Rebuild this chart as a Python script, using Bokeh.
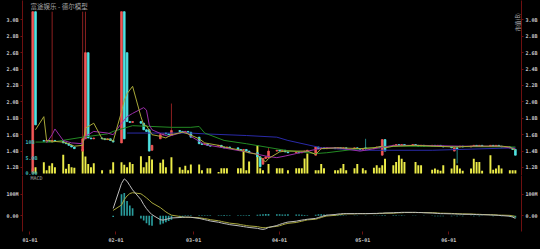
import math
import pandas as pd
from bokeh.plotting import figure
from bokeh.layouts import column
from bokeh.models import (Range1d, LinearAxis, FixedTicker, CustomJSTickFormatter,
                          DatetimeTickFormatter, Label, ColumnDataSource)
from bokeh.embed import file_html
from bokeh.resources import INLINE

# ---------------- data (values in billions; MACD in millions) ----------------
dates = pd.bdate_range("2025-01-02", "2025-06-25")

opens = [
    1.15, 3.10,
    1.53, 1.52, 1.53, 1.51, 1.53,
    1.52, 1.50, 1.49, 1.47, 1.45,
    1.40, 1.55, 2.60, 1.56, 1.55,
    1.56, 1.55, 1.54, 1.55, 1.53,
    1.50, 3.10, 2.60, 1.76, 1.75,
    1.76, 1.74, 1.66, 1.66, 1.41,
    1.55, 1.60, 1.62, 1.61, 1.59,
    1.65, 1.64, 1.63, 1.64, 1.63,
    1.57, 1.49, 1.48, 1.49, 1.47,
    1.46, 1.47, 1.45, 1.44, 1.45,
    1.44, 1.42, 1.41, 1.42, 1.40,
    1.38, 1.33, 1.24, 1.31, 1.32,
    1.40, 1.41, 1.40, 1.41, 1.39,
    1.38, 1.39, 1.38, 1.39, 1.40,
    1.35, 1.45, 1.43, 1.44, 1.43,
    1.44, 1.43, 1.44, 1.43, 1.44,
    1.43, 1.44, 1.43, 1.42, 1.44,
    1.43, 1.44, 1.45, 1.35, 1.54,
    1.46, 1.47, 1.48, 1.47, 1.48,
    1.47, 1.48, 1.47, 1.46, 1.47,
    1.46, 1.47, 1.46, 1.47, 1.46,
    1.45, 1.40, 1.44, 1.45, 1.46,
    1.45, 1.46, 1.47, 1.46, 1.47,
    1.46, 1.47, 1.46, 1.47, 1.46,
    1.45, 1.44, 1.42,
]
closes = [
    3.10, 1.72,
    1.52, 1.53, 1.52, 1.53, 1.52,
    1.50, 1.49, 1.47, 1.45, 1.43,
    1.55, 2.60, 1.56, 1.55, 1.56,
    1.55, 1.54, 1.55, 1.53, 1.51,
    3.10, 1.55, 1.76, 1.75, 1.76,
    1.74, 1.66, 1.64, 1.40, 1.47,
    1.60, 1.61, 1.61, 1.60, 1.65,
    1.64, 1.63, 1.64, 1.63, 1.57,
    1.49, 1.48, 1.49, 1.47, 1.46,
    1.47, 1.45, 1.44, 1.45, 1.44,
    1.42, 1.41, 1.42, 1.40, 1.38,
    1.33, 1.21, 1.31, 1.33, 1.40,
    1.41, 1.40, 1.41, 1.39, 1.38,
    1.39, 1.38, 1.39, 1.40, 1.41,
    1.45, 1.43, 1.44, 1.43, 1.44,
    1.43, 1.44, 1.43, 1.44, 1.43,
    1.44, 1.43, 1.42, 1.43, 1.43,
    1.44, 1.45, 1.44, 1.54, 1.40,
    1.47, 1.48, 1.47, 1.48, 1.47,
    1.48, 1.47, 1.46, 1.47, 1.46,
    1.47, 1.46, 1.47, 1.46, 1.45,
    1.44, 1.44, 1.43, 1.46, 1.45,
    1.46, 1.47, 1.46, 1.47, 1.46,
    1.47, 1.46, 1.47, 1.46, 1.45,
    1.44, 1.42, 1.35,
]
# highs / lows that reach beyond the candle body
wick_highs = {"2025-01-09": 3.10, "2025-01-20": 3.10, "2025-01-21": 3.10,
              "2025-02-21": 1.98, "2025-03-28": 1.44, "2025-05-02": 1.55}
wick_lows = {"2025-01-02": 1.12, "2025-03-25": 1.20, "2025-05-02": 1.41,
             "2025-06-04": 1.25}

volumes = [
    1.6, 2.0,
    3.6, 1.0, 2.5, 3.3, 2.0,
    6.0, 1.5, 3.0, 2.0, 1.8,
    7.8, 5.4, 3.0, 2.0, 3.3,
    1.0, 0.0, 0.0, 1.2, 3.6,
    3.6, 2.8, 2.0, 3.6, 3.0,
    5.5, 2.0, 3.6, 5.6, 4.5,
    3.4, 4.5, 2.0, 0.0, 5.2,
    2.0, 1.2, 2.5, 1.0, 2.9,
    2.9, 1.0, 0.0, 1.7, 1.7,
    0.5, 1.7, 1.7, 1.7, 0.0,
    1.7, 1.7, 7.3, 1.0, 3.8,
    9.0, 1.7, 1.0, 0.0, 3.0,
    1.7, 1.7, 1.7, 0.0, 1.0,
    1.7, 1.7, 1.7, 4.8, 6.4,
    1.0, 1.0, 3.0, 1.7, 0.0,
    1.0, 1.0, 1.7, 3.0, 1.0,
    1.7, 3.0, 0.0, 1.7, 1.0,
    1.8, 2.6, 1.8, 2.6, 4.7,
    2.6, 3.7, 5.8, 4.7, 3.7,
    0.0, 3.7, 2.6, 2.6, 0.0,
    1.2, 1.6, 1.2, 0.9, 2.6,
    1.6, 4.7, 2.6, 1.6, 0.9,
    1.6, 4.7, 3.7, 3.7, 0.9,
    5.8, 1.2, 1.6, 2.6, 1.6,
    1.0, 1.0, 1.0,
]

ma5_dates = ["2025-01-03", "2025-01-06", "2025-01-07", "2025-01-09", "2025-01-13",
             "2025-01-15", "2025-01-17", "2025-01-20", "2025-01-21", "2025-01-23",
             "2025-01-24", "2025-01-27", "2025-01-30", "2025-01-31", "2025-02-03",
             "2025-02-04", "2025-02-05", "2025-02-07", "2025-02-10", "2025-02-11",
             "2025-02-12", "2025-02-14", "2025-02-17", "2025-02-19", "2025-02-21",
             "2025-02-25", "2025-02-27", "2025-03-03", "2025-03-05", "2025-03-10",
             "2025-03-12", "2025-03-18", "2025-03-21", "2025-03-24", "2025-03-26",
             "2025-03-27", "2025-03-28", "2025-04-01", "2025-04-03", "2025-04-11",
             "2025-04-14", "2025-04-16", "2025-04-22", "2025-04-30", "2025-05-05",
             "2025-05-08", "2025-05-09", "2025-05-12", "2025-05-20", "2025-06-03",
             "2025-06-10", "2025-06-20", "2025-06-23", "2025-06-25"]
ma5_vals = [1.66, 1.82, 1.53, 1.52, 1.51, 1.49, 1.46, 1.47, 1.68, 1.72,
            1.74, 1.55, 1.54, 1.52, 1.88, 2.02, 2.10, 2.19, 1.82, 1.72,
            1.71, 1.60, 1.58, 1.56, 1.60, 1.63, 1.61, 1.55, 1.50, 1.47,
            1.45, 1.41, 1.38, 1.36, 1.29, 1.27, 1.31, 1.39, 1.40, 1.40,
            1.36, 1.43, 1.44, 1.43, 1.44, 1.46, 1.44, 1.46, 1.47, 1.45,
            1.46, 1.46, 1.45, 1.41]

ma10_dates = ["2025-01-07", "2025-01-09", "2025-01-10", "2025-01-13", "2025-01-16",
              "2025-01-20", "2025-01-21", "2025-01-24", "2025-01-29", "2025-01-31",
              "2025-02-03", "2025-02-05", "2025-02-07", "2025-02-11", "2025-02-12",
              "2025-02-13", "2025-02-14", "2025-02-18", "2025-02-20", "2025-02-24",
              "2025-02-26", "2025-02-28", "2025-03-03", "2025-03-05", "2025-03-10",
              "2025-03-20", "2025-03-27", "2025-03-31", "2025-04-03", "2025-04-07",
              "2025-04-14", "2025-04-18", "2025-04-22", "2025-04-30", "2025-05-07",
              "2025-05-12", "2025-05-22", "2025-06-05", "2025-06-19", "2025-06-25"]
ma10_vals = [1.50, 1.60, 1.67, 1.53, 1.50, 1.49, 1.58, 1.64, 1.62, 1.60,
             1.74, 1.82, 1.86, 1.93, 1.90, 1.72, 1.66, 1.60, 1.58, 1.62,
             1.64, 1.58, 1.52, 1.48, 1.45, 1.39, 1.34, 1.32, 1.34, 1.37,
             1.42, 1.44, 1.44, 1.40, 1.44, 1.47, 1.47, 1.46, 1.46, 1.43]

ma20_dates = ["2025-01-03", "2025-01-09", "2025-01-20", "2025-01-29", "2025-01-31",
              "2025-02-04", "2025-02-07", "2025-02-14", "2025-02-21", "2025-02-28",
              "2025-03-03", "2025-03-05", "2025-03-12", "2025-03-20", "2025-04-03",
              "2025-04-14", "2025-04-18", "2025-04-30", "2025-05-09", "2025-05-14",
              "2025-06-25"]
ma20_vals = [1.51, 1.51, 1.57, 1.61, 1.64, 1.68, 1.71, 1.70, 1.69, 1.69,
             1.70, 1.62, 1.53, 1.49, 1.41, 1.37, 1.38, 1.43, 1.45, 1.46, 1.45]

ma60_dates = ["2025-02-05", "2025-02-28", "2025-03-05", "2025-03-20", "2025-03-31",
              "2025-04-04", "2025-04-16", "2025-04-30", "2025-05-26", "2025-06-25"]
ma60_vals = [1.62, 1.62, 1.61, 1.59, 1.57, 1.53, 1.44, 1.41, 1.41, 1.44]

# MACD (millions), from 2025-01-31 onward
macd_dif = [34, 150, 171, 160, 140, 120, 75, 52, 33, 18,
            5, -18, -20, -17, -13, -10, -8, -7, -6, -6,
            -7, -12, -15, -18, -21, -24, -30, -33, -36, -38,
            -41, -46, -48, -50, -52, -54, -58, -61, -63, -60,
            -54, -45, -40, -36, -32, -29, -25, -22, -20, -18,
            -16, -12, -8, -4, 0, 3, 6, 8, 9, 10,
            10, 10, 10, 10, 10, 10, 11, 11, 12, 12,
            13, 14, 15, 15, 16, 16, 16, 16, 15, 15,
            14, 13, 12, 11, 10, 10, 9, 9, 8, 8,
            7, 7, 6, 6, 5, 5, 4, 3, 3, 2,
            1, -2, -6, -12]
macd_dea = [25, 50, 75, 92, 103, 107, 102, 93, 83, 72,
            60, 38, 28, 18, 10, 3, -3, -6, -7, -7,
            -7, -9, -11, -13, -15, -18, -23, -26, -29, -31,
            -34, -38, -41, -43, -45, -47, -50, -53, -55, -55,
            -53, -49, -46, -42, -38, -35, -31, -28, -25, -22,
            -19, -16, -12, -8, -4, -1, 2, 4, 6, 8,
            9, 9, 10, 10, 10, 10, 10, 10, 11, 11,
            12, 12, 13, 14, 14, 15, 15, 15, 15, 15,
            15, 14, 14, 13, 12, 12, 11, 10, 10, 9,
            9, 8, 8, 7, 7, 6, 5, 5, 4, 3,
            3, 2, 0, -3]
macd_hist = [-6, 100, 105, 68, 48, 35, -12, -22, -35, -44,
             -46, -40, -36, -30, -24, -18, -10, -5, 2, 3,
             3, 3, 2, 3, 3, 2, 3, 3, 4, 3,
             3, 3, 2, 3, 3, 4, 5, 6, 7, 8,
             8, 7, 7, 6, 6, 7, 6, 6, 5, 4,
             3, 5, 7, 7, 6, 5, 4, 3, 2, 2,
             1, 1, 1, 0, 0, -1, 1, 1, 1, 2,
             2, 2, 2, 1, 2, 1, 1, 1, 0, 0,
             -1, -1, -2, -2, -2, -2, -2, -1, -2, -1,
             -2, -1, -2, -1, -2, -1, -1, -2, -1, -1,
             -2, -4, -6, -9]

price_ticks = [1.2, 1.4, 1.6, 1.8, 2.0, 2.2, 2.4, 2.6, 2.8, 3.0]
macd_ticks = [0, 100]
macd_labels = {0: "0.00", 100: "100M"}
vol_ticks = [0, 5, 10]
vol_labels = ["0.00", "5.0B", "10B"]
month_ticks = ["2025-01-01", "2025-02-01", "2025-03-01", "2025-04-01", "2025-05-01", "2025-06-01"]
last_price_text = "1.35B"
title_text = "富途娱乐 - 德尔模型"
right_title = "市值(B)"

# ---------------- styling ----------------
BG = "#000000"
AXIS = "#6e1010"
TICK_TXT = "#c8c8c8"
UP, DOWN = "#f25757", "#4fe3e3"
UP_WICK, DOWN_WICK = "#8c2020", "#238585"
VOL = "#ecec48"
MONO = "DejaVu Sans Mono"

DAY = 86400000
ms = lambda s: pd.Timestamp(s).value // 10**6
JAN1 = ms("2025-01-01")
xr = Range1d(start=JAN1 - 2.69 * DAY, end=JAN1 + 177.2 * DAY)

keys = [d.strftime("%Y-%m-%d") for d in dates]
up = [c >= o for o, c in zip(opens, closes)]
src = ColumnDataSource(dict(
    x=list(dates),
    top=[max(o, c) for o, c in zip(opens, closes)],
    bottom=[min(o, c) for o, c in zip(opens, closes)],
    high=[wick_highs.get(k, max(o, c)) for k, o, c in zip(keys, opens, closes)],
    low=[wick_lows.get(k, min(o, c)) for k, o, c in zip(keys, opens, closes)],
    color=[UP if u else DOWN for u in up],
    wick=[UP_WICK if u else DOWN_WICK for u in up],
    vol=volumes,
))


def style_axis(ax):
    ax.axis_line_color = AXIS
    ax.major_tick_line_color = AXIS
    ax.minor_tick_line_color = None
    ax.major_tick_out = 2
    ax.major_tick_in = 0
    ax.major_label_text_color = TICK_TXT
    ax.major_label_text_font = MONO
    ax.major_label_text_font_size = "5px"
    ax.major_label_text_font_style = "bold"
    ax.major_label_standoff = 2


def base_fig(height, yr, top, bottom, xloc):
    f = figure(width=540, height=height, x_range=xr, y_range=yr, x_axis_type="datetime",
               x_axis_location=xloc, output_backend="svg", toolbar_location=None,
               min_border_left=22, min_border_right=17, min_border_top=top,
               min_border_bottom=bottom)
    f.background_fill_color = BG
    f.border_fill_color = BG
    f.outline_line_color = None
    f.grid.visible = False
    return f


# ---------------- price / volume panel ----------------
p1 = base_fig(175, Range1d(1.1024, 3.2366), 0, 0, None)
p1.extra_y_ranges = {"vol": Range1d(-0.64, 55.3)}
fmt_b = CustomJSTickFormatter(code="return tick.toFixed(1) + 'B';")
p1.yaxis.ticker = FixedTicker(ticks=price_ticks)
p1.yaxis.formatter = fmt_b
ra = LinearAxis(ticker=FixedTicker(ticks=price_ticks), formatter=fmt_b)
p1.add_layout(ra, "right")
for ax in p1.yaxis:
    style_axis(ax)

p1.vbar(x="x", width=0.7 * DAY, top="vol", bottom=0, y_range_name="vol",
        fill_color=VOL, line_color=None, source=src)
p1.segment(x0="x", y0="low", x1="x", y1="high", line_color="wick", line_width=1, source=src)
p1.vbar(x="x", width=0.62 * DAY, top="top", bottom="bottom", fill_color="color",
        line_color="color", line_width=0.8, source=src)

for d, v, col in [(ma60_dates, ma60_vals, "#2a2aa8"), (ma20_dates, ma20_vals, "#238a23"),
                  (ma10_dates, ma10_vals, "#9a2ea8"), (ma5_dates, ma5_vals, "#a8a838")]:
    p1.line(x=pd.to_datetime(d), y=v, line_color=col, line_width=1)

for v, t in zip(vol_ticks, vol_labels):
    p1.add_layout(Label(x=JAN1 - 1.62 * DAY, y=v, y_range_name="vol", text=t,
                        text_font=MONO, text_font_size="5px", text_font_style="bold",
                        text_color="#3fb8b8", text_align="left", text_baseline="middle"))

p1.add_layout(Label(x=JAN1 + 0.2 * DAY, y=3.167, text=title_text,
                    text_font="Noto Sans CJK SC", text_font_size="6.5px",
                    text_color="#a8a8a8", text_align="left", text_baseline="middle"))
p1.add_layout(Label(x=JAN1 + 175.9 * DAY, y=2.859, text=right_title, angle=math.pi / 2,
                    text_font="Noto Sans CJK SC", text_font_size="5.5px",
                    text_color="#b4b4b4", text_align="left", text_baseline="middle"))
p1.add_layout(Label(x=xr.end, x_offset=4, y=closes[-1], text=last_price_text,
                    text_font=MONO, text_font_size="5px", text_font_style="bold",
                    text_color="#ffffff", text_align="left", text_baseline="middle",
                    background_fill_color="#8c8c8c", background_fill_alpha=1.0))

# ---------------- MACD panel ----------------
p2 = base_fig(74, Range1d(-72.7, 186.6), 0, 18, "below")
p2.yaxis.ticker = FixedTicker(ticks=macd_ticks)
p2.yaxis.major_label_overrides = macd_labels
ra2 = LinearAxis(ticker=FixedTicker(ticks=macd_ticks), major_label_overrides=macd_labels)
p2.add_layout(ra2, "right")
for ax in p2.yaxis:
    style_axis(ax)
xa = p2.xaxis[0]
style_axis(xa)
xa.axis_line_color = None
xa.major_tick_out = 3
xa.major_label_standoff = 3
xa.ticker = FixedTicker(ticks=[ms(m) for m in month_ticks])
xa.formatter = DatetimeTickFormatter(days="%m-%d", months="%m-%d", years="%m-%d",
                                     hours="%m-%d", hourmin="%m-%d")

macd_dates = list(dates[21:])
p2.vbar(x=macd_dates, top=macd_hist, bottom=0, width=0.6 * DAY,
        fill_color="#2a9c9c", line_color=None)
p2.line(x=macd_dates, y=macd_dea, line_color="#a6a63c", line_width=1)
p2.line(x=macd_dates, y=macd_dif, line_color="#bdbdbd", line_width=1)
p2.add_layout(Label(x=JAN1 + 0.2 * DAY, y=176, text="MACD", text_font=MONO,
                    text_font_size="5px", text_color="#a0a0a0", text_align="left",
                    text_baseline="middle"))

assert len(opens) == len(closes) == len(volumes) == len(dates) == 125
assert len(macd_dif) == len(macd_dea) == len(macd_hist) == len(macd_dates)

layout = column(p1, p2, spacing=0)
html = file_html(layout, INLINE)
html = html.replace("<head>", "<head><style>html,body{background:#000;margin:0;padding:0;}</style>", 1)
open("out.html", "w").write(html)
